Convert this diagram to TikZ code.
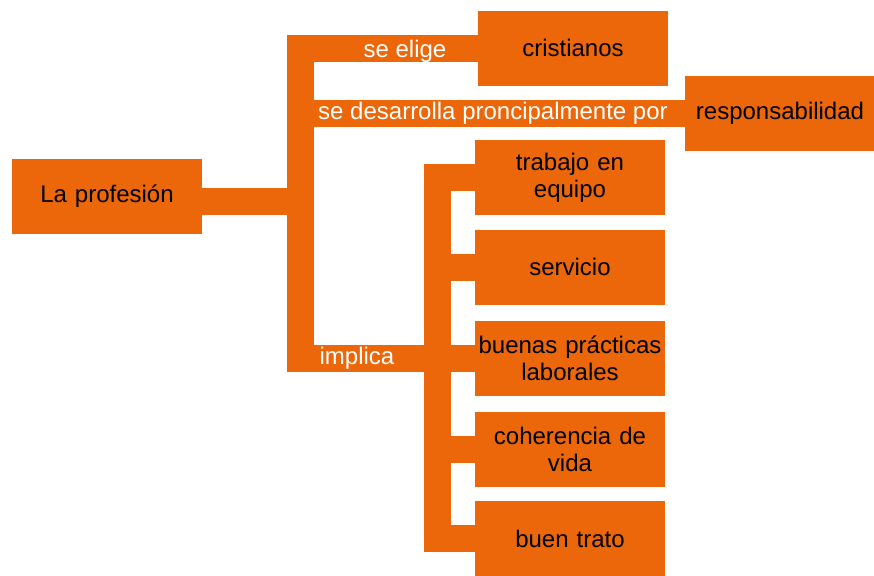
\documentclass[tikz,border=0pt]{standalone}
\usepackage{fontspec}
\setmainfont{Liberation Sans}
\usetikzlibrary{positioning, calc}
\definecolor{naranja}{RGB}{235,103,9}

\begin{document}
\begin{tikzpicture}[x=0.5pt, y=-0.5pt,
  caja/.style={fill=naranja, minimum width=95pt, minimum height=37.5pt,
               text width=95pt, align=center, inner sep=0pt,
               font=\fontsize{12}{13.5}\selectfont},
  barra/.style={draw=naranja, line width=13.5pt, line join=miter},
  etiqueta/.style={text=white, inner sep=0pt, font=\fontsize{12}{13.5}\selectfont}]
  \useasboundingbox (0,0) rectangle (874,575);

  % Cajas
  \node[caja] (prof) at (107, 196) {La profesión};
  \node[caja] (crist) at (573, 48) {cristianos};
  \node[caja] (resp) at (780, 113) {responsabilidad};
  \node[caja] (trabajo) at (570, 177.5) {trabajo en\\equipo};
  \node[caja] (servicio) at (570, 267) {servicio};
  \node[caja] (buenas) at (570, 358) {buenas prácticas\\laborales};
  \node[caja] (coherencia) at (570, 449) {coherencia de\\vida};
  \node[caja] (trato) at (570, 538.5) {buen trato};

  % Ejes verticales
  \coordinate (s1) at (300.5, 201.5);
  \coordinate (s2) at (437.5, 0);

  % Conectores
  \draw[barra] (prof.east |- s1) -- (s1);
  \draw[barra] (crist.west) -| (buenas.west -| s1) -- (buenas.west);
  \draw[barra] (resp.west -| s1) -- (resp.west);
  \draw[barra] (trabajo.west) -| (trato.west -| s2) -- (trato.west);
  \foreach \n in {servicio, coherencia}
    \draw[barra] (\n.west -| s2) -- (\n.west);

  % Etiquetas
  \node[etiqueta] (elige) at (405, 51) {se elige};
  \node[etiqueta] (desarrolla) at (493, 113) {se desarrolla proncipalmente por};
  \node[etiqueta] (implica) at (357, 358) {implica};
\end{tikzpicture}
\end{document}
